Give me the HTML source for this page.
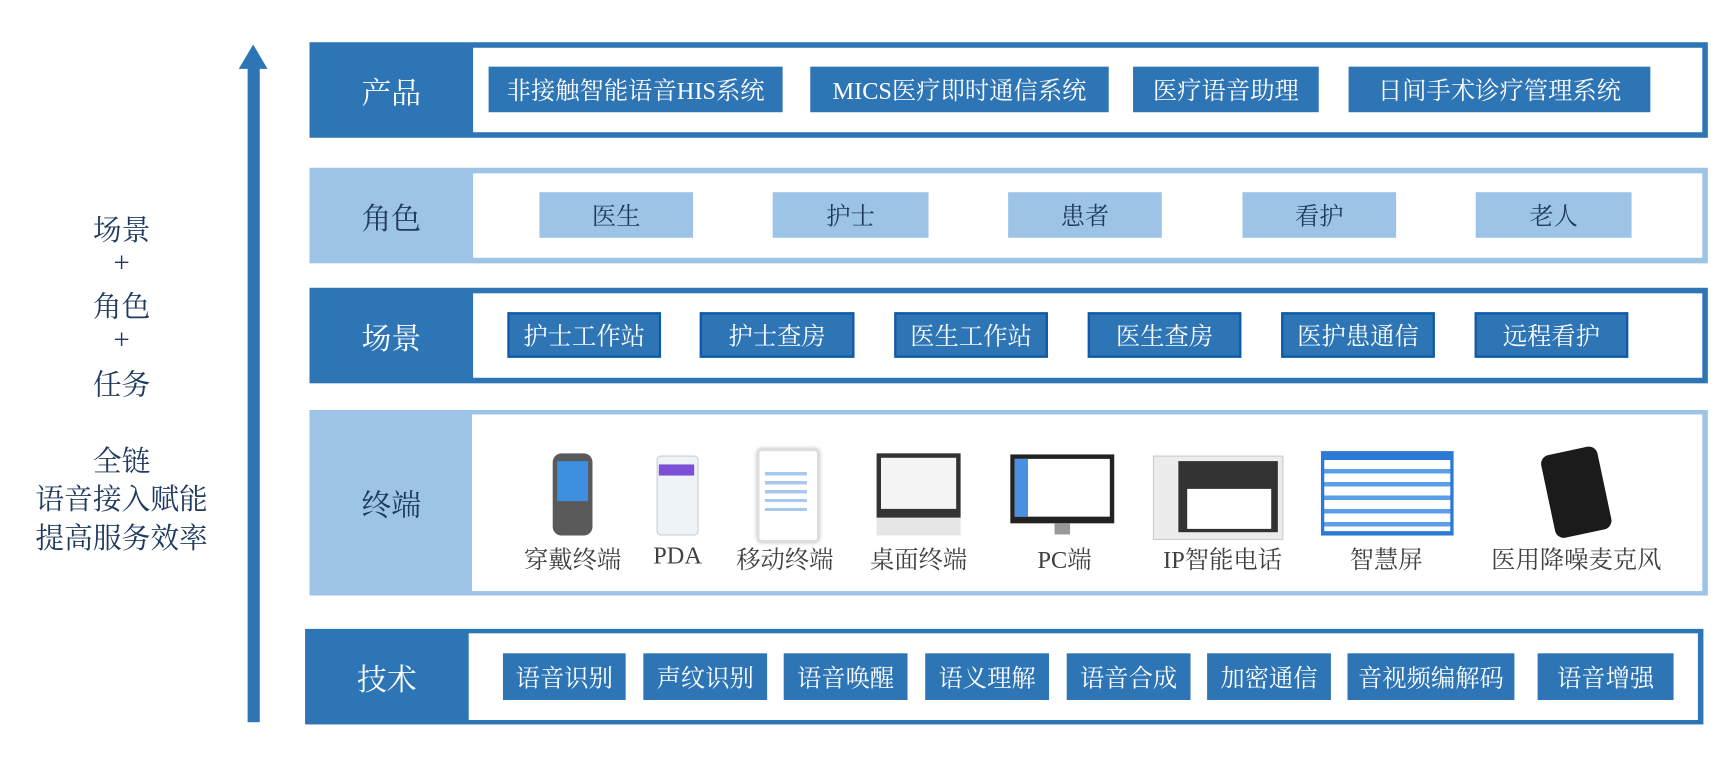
<!DOCTYPE html>
<html><head><meta charset="utf-8"><style>
html,body{margin:0;padding:0;width:1733px;height:760px;overflow:hidden;background:#fff}
#c{position:absolute;left:0;top:0;width:1560px;height:684px;transform:scale(1.1054,1.1111);transform-origin:0 0;font-family:"Liberation Serif","Noto Serif CJK SC","Noto Sans CJK SC",serif}
.a{position:absolute}
.row{position:absolute;box-sizing:border-box}
.lab{position:absolute;left:0;top:0;width:148px;height:100%;display:flex;align-items:center;justify-content:center;color:#fff;font-size:27px}
.in{position:absolute;background:#fff}
.b{position:absolute;display:flex;align-items:center;justify-content:center;font-size:22px;color:#fff;background:#2e75b6;box-sizing:border-box;white-space:nowrap}
.lt{position:absolute;width:200px;left:10px;text-align:center;color:#1f3a5f;font-size:26px}
.dl{position:absolute;top:487px;font-size:22px;color:#404040;transform:translateX(-50%);white-space:nowrap}
</style></head><body><div id="c">
<div class="a" style="left:224px;top:58px;width:11px;height:592px;background:#2e75b6"></div>
<div class="a" style="left:216px;top:40px;width:0;height:0;border-left:13px solid transparent;border-right:13px solid transparent;border-bottom:22px solid #2e75b6"></div>
<div class="lt" style="top:187px">场景</div>
<div class="lt" style="top:222px">+</div>
<div class="lt" style="top:256px">角色</div>
<div class="lt" style="top:291px">+</div>
<div class="lt" style="top:326px">任务</div>
<div class="lt" style="top:395px">全链</div>
<div class="lt" style="top:429px">语音接入赋能</div>
<div class="lt" style="top:464px">提高服务效率</div>

<div class="row" style="left:280px;top:38px;width:1265px;height:86px;background:#2e75b6">
<div class="lab">产品</div><div class="in" style="left:148px;top:5px;width:1112px;height:76px"></div></div>
<div class="b" style="left:442px;top:60px;width:266px;height:41px">非接触智能语音HIS系统</div>
<div class="b" style="left:733px;top:60px;width:270px;height:41px">MICS医疗即时通信系统</div>
<div class="b" style="left:1025px;top:60px;width:168px;height:41px">医疗语音助理</div>
<div class="b" style="left:1220px;top:60px;width:273px;height:41px">日间手术诊疗管理系统</div>

<div class="row" style="left:280px;top:151px;width:1265px;height:86px;background:#9dc3e6">
<div class="lab" style="color:#1f3a5f">角色</div><div class="in" style="left:148px;top:5px;width:1112px;height:76px"></div></div>
<div class="b" style="left:488px;top:173px;width:139px;height:41px;background:#9dc3e6;color:#1f3a5f">医生</div>
<div class="b" style="left:699px;top:173px;width:141px;height:41px;background:#9dc3e6;color:#1f3a5f">护士</div>
<div class="b" style="left:912px;top:173px;width:139px;height:41px;background:#9dc3e6;color:#1f3a5f">患者</div>
<div class="b" style="left:1124px;top:173px;width:139px;height:41px;background:#9dc3e6;color:#1f3a5f">看护</div>
<div class="b" style="left:1335px;top:173px;width:141px;height:41px;background:#9dc3e6;color:#1f3a5f">老人</div>

<div class="row" style="left:280px;top:259px;width:1265px;height:86px;background:#2e75b6">
<div class="lab">场景</div><div class="in" style="left:148px;top:5px;width:1112px;height:76px"></div></div>
<div class="b" style="left:459px;top:281px;width:139px;height:41px;border:2px solid #0e5aa7">护士工作站</div>
<div class="b" style="left:633px;top:281px;width:140px;height:41px;border:2px solid #0e5aa7">护士查房</div>
<div class="b" style="left:809px;top:281px;width:139px;height:41px;border:2px solid #0e5aa7">医生工作站</div>
<div class="b" style="left:984px;top:281px;width:139px;height:41px;border:2px solid #0e5aa7">医生查房</div>
<div class="b" style="left:1159px;top:281px;width:139px;height:41px;border:2px solid #0e5aa7">医护患通信</div>
<div class="b" style="left:1334px;top:281px;width:139px;height:41px;border:2px solid #0e5aa7">远程看护</div>

<div class="row" style="left:280px;top:369px;width:1265px;height:167px;background:#9dc3e6">
<div class="lab" style="color:#1f3a5f">终端</div><div class="in" style="left:147px;top:4px;width:1113px;height:159px"></div></div>
<div class="a" style="left:500px;top:408px;width:36px;height:74px;background:#5a5a5a;border-radius:8px"></div>
<div class="a" style="left:504px;top:415px;width:28px;height:36px;background:#3d8fe0"></div>
<div class="a" style="left:594px;top:410px;width:36px;height:70px;background:#eef3f8;border:1px solid #ccc;border-radius:4px"></div>
<div class="a" style="left:596px;top:418px;width:32px;height:10px;background:#7b4fd6"></div>
<div class="a" style="left:685px;top:404px;width:52px;height:80px;background:#fff;border:2px solid #ddd;border-radius:4px;box-shadow:0 0 4px #bbb"></div>
<div class="a" style="left:692px;top:420px;width:38px;height:40px;background:repeating-linear-gradient(#fff 0 5px,#a9c8ee 5px 8px)"></div>
<div class="a" style="left:793px;top:408px;width:76px;height:58px;background:#333"></div>
<div class="a" style="left:797px;top:412px;width:68px;height:46px;background:#f4f4f4"></div>
<div class="a" style="left:793px;top:466px;width:76px;height:16px;background:#e6e6e6"></div>
<div class="a" style="left:914px;top:409px;width:94px;height:62px;background:#222"></div>
<div class="a" style="left:918px;top:413px;width:86px;height:52px;background:#fff"></div>
<div class="a" style="left:918px;top:413px;width:12px;height:52px;background:#4a90e2"></div>
<div class="a" style="left:954px;top:471px;width:14px;height:10px;background:#999"></div>
<div class="a" style="left:1043px;top:410px;width:116px;height:74px;background:#ececec;border:1px solid #ccc"></div>
<div class="a" style="left:1066px;top:415px;width:90px;height:64px;background:#333"></div>
<div class="a" style="left:1074px;top:440px;width:76px;height:36px;background:#fff"></div>
<div class="a" style="left:1195px;top:406px;width:120px;height:76px;background:#2d7ad6"></div>
<div class="a" style="left:1198px;top:414px;width:114px;height:64px;background:repeating-linear-gradient(#fff 0 8px,#5a9fe8 8px 12px)"></div>
<div class="a" style="left:1400px;top:405px;width:52px;height:76px;background:#1b1b1b;border-radius:8px;transform:rotate(-12deg)"></div>
<div class="dl" style="left:518px">穿戴终端</div>
<div class="dl" style="left:613px">PDA</div>
<div class="dl" style="left:710px">移动终端</div>
<div class="dl" style="left:831px">桌面终端</div>
<div class="dl" style="left:963px">PC端</div>
<div class="dl" style="left:1106px">IP智能电话</div>
<div class="dl" style="left:1254px">智慧屏</div>
<div class="dl" style="left:1426px">医用降噪麦克风</div>

<div class="row" style="left:276px;top:566px;width:1265px;height:86px;background:#2e75b6">
<div class="lab">技术</div><div class="in" style="left:148px;top:4px;width:1112px;height:78px"></div></div>
<div class="b" style="left:455px;top:588px;width:111px;height:42px">语音识别</div>
<div class="b" style="left:582px;top:588px;width:112px;height:42px">声纹识别</div>
<div class="b" style="left:709px;top:588px;width:112px;height:42px">语音唤醒</div>
<div class="b" style="left:837px;top:588px;width:112px;height:42px">语义理解</div>
<div class="b" style="left:965px;top:588px;width:112px;height:42px">语音合成</div>
<div class="b" style="left:1092px;top:588px;width:112px;height:42px">加密通信</div>
<div class="b" style="left:1219px;top:588px;width:151px;height:42px">音视频编解码</div>
<div class="b" style="left:1391px;top:588px;width:123px;height:42px">语音增强</div>
</div></body></html>
